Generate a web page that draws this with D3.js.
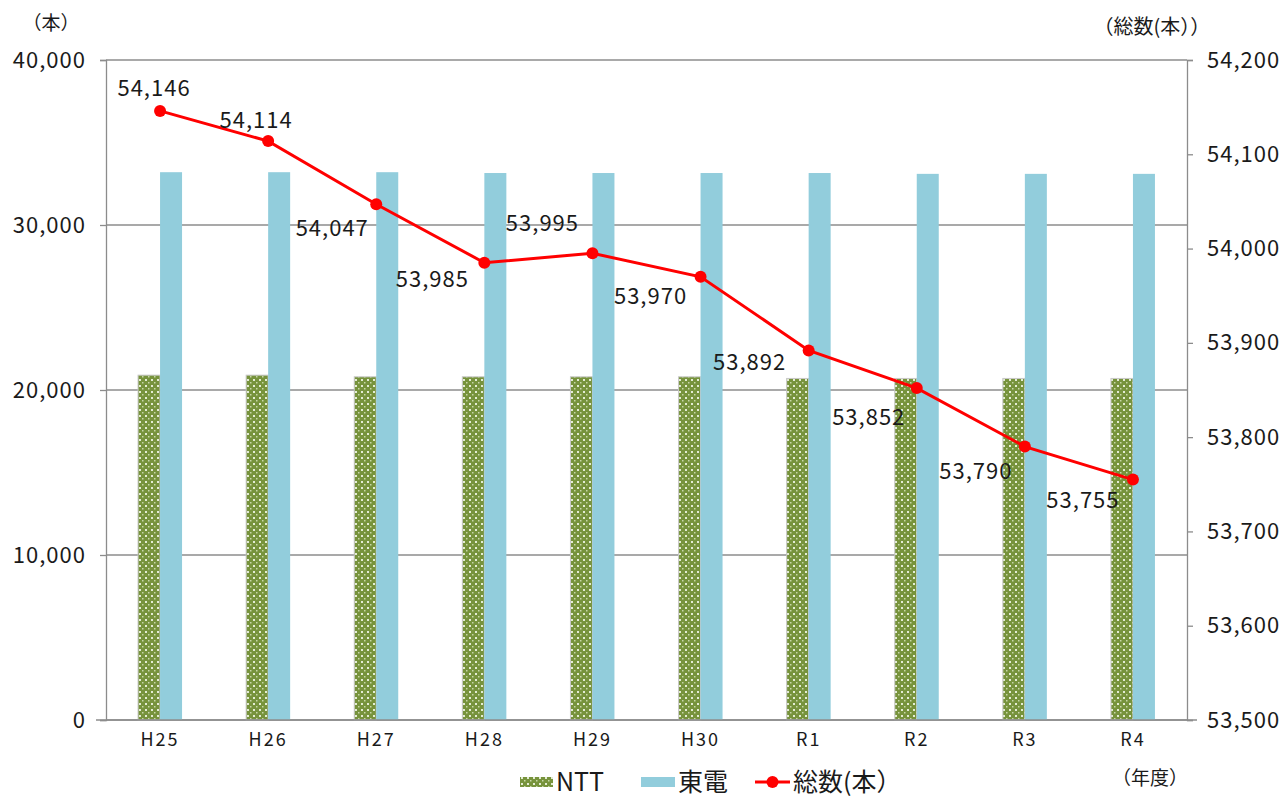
<!DOCTYPE html>
<html>
<head>
<meta charset="utf-8">
<script src="https://cdn.jsdelivr.net/npm/d3@7"></script>
<style>
  body { margin: 0; background: #fff; }
  text { font-family: "Noto Sans CJK JP", "Noto Sans", sans-serif; fill: #1a1a1a; }
</style>
</head>
<body>
<div id="chart"></div>
<script>
var years = ["H25", "H26", "H27", "H28", "H29", "H30", "R1", "R2", "R3", "R4"];
var ntt = [20900, 20900, 20800, 20800, 20800, 20800, 20700, 20700, 20700, 20700];
var toden = [33200, 33200, 33200, 33150, 33150, 33150, 33150, 33100, 33100, 33100];
var total = [54146, 54114, 54047, 53985, 53995, 53970, 53892, 53852, 53790, 53755];
var leftTicks = [0, 10000, 20000, 30000, 40000];
var rightTicks = [53500, 53600, 53700, 53800, 53900, 54000, 54100, 54200];

// where each data label sits relative to its point (layout only)
var labelDx = [-6, -12, -44, -52, -50, -50, -59, -48, -49, -50];
var labelDy = [-23, -21, 24, 16, -30, 19, 12, 29, 25, 21];

var width = 1284, height = 798;
var m = { left: 106, right: 97, top: 60, bottom: 78 };

var svg = d3.select("#chart").append("svg")
  .attr("width", width)
  .attr("height", height);

var defs = svg.append("defs");
var pat = defs.append("pattern")
  .attr("id", "dots")
  .attr("patternUnits", "userSpaceOnUse")
  .attr("width", 6).attr("height", 6);
pat.append("rect").attr("width", 6).attr("height", 6).attr("fill", "#77933c");
pat.append("rect").attr("x", 1).attr("y", 1).attr("width", 2).attr("height", 2).attr("fill", "#e4ecd4");
pat.append("rect").attr("x", 4).attr("y", 4).attr("width", 1.5).attr("height", 1.5).attr("fill", "#c8d8a8");

var x = d3.scaleBand()
  .domain(years)
  .range([m.left, width - m.right]);

var y = d3.scaleLinear()
  .domain([0, 40000])
  .range([height - m.bottom, m.top]);

var y2 = d3.scaleLinear()
  .domain([53500, 54200])
  .range([height - m.bottom, m.top]);

var fmt = d3.format(",");

// gridlines
svg.append("g")
  .selectAll("line")
  .data(leftTicks)
  .join("line")
  .attr("x1", m.left).attr("x2", width - m.right)
  .attr("y1", d => y(d)).attr("y2", d => y(d))
  .attr("stroke", "#8c8c8c")
  .attr("stroke-width", 1.3);

var barW = 22;

svg.append("g")
  .selectAll("rect")
  .data(years)
  .join("rect")
  .attr("x", d => x(d) + x.bandwidth() / 2 - barW)
  .attr("y", (d, i) => y(ntt[i]))
  .attr("width", barW)
  .attr("height", (d, i) => y(0) - y(ntt[i]))
  .attr("fill", "url(#dots)")
  .attr("stroke", "#c9c9c9")
  .attr("stroke-width", 1);

svg.append("g")
  .selectAll("rect")
  .data(years)
  .join("rect")
  .attr("x", d => x(d) + x.bandwidth() / 2)
  .attr("y", (d, i) => y(toden[i]))
  .attr("width", barW)
  .attr("height", (d, i) => y(0) - y(toden[i]))
  .attr("fill", "#92cddc");

// axes
var gl = svg.append("g")
  .attr("transform", "translate(" + m.left + ",0)")
  .call(d3.axisLeft(y).tickValues(leftTicks).tickFormat(fmt).tickSize(6).tickPadding(14));
var gr = svg.append("g")
  .attr("transform", "translate(" + (width - m.right) + ",0)")
  .call(d3.axisRight(y2).tickValues(rightTicks).tickFormat(fmt).tickSize(6).tickPadding(14));
var gb = svg.append("g")
  .attr("transform", "translate(0," + (height - m.bottom) + ")")
  .call(d3.axisBottom(x).tickSize(0).tickPadding(13));

[gl, gr, gb].forEach(function (g) {
  g.select(".domain").attr("stroke", "#8c8c8c").attr("stroke-width", 1.3);
  g.selectAll(".tick line").attr("stroke", "#8c8c8c").attr("stroke-width", 1.3);
});
gl.selectAll("text").attr("font-size", 22).attr("letter-spacing", 1).attr("fill", "#1a1a1a");
gr.selectAll("text").attr("font-size", 22).attr("letter-spacing", 1).attr("fill", "#1a1a1a");
gb.selectAll("text").attr("font-size", 18).attr("letter-spacing", 2).attr("fill", "#1a1a1a");
gb.select(".domain").attr("d", "M" + (m.left - 10) + ",0H" + (width - m.right + 10));

// line
var line = d3.line()
  .x((d, i) => x(years[i]) + x.bandwidth() / 2)
  .y(d => y2(d));

svg.append("path")
  .datum(total)
  .attr("d", line)
  .attr("fill", "none")
  .attr("stroke", "#ff0000")
  .attr("stroke-width", 3);

svg.append("g")
  .selectAll("circle")
  .data(total)
  .join("circle")
  .attr("cx", (d, i) => x(years[i]) + x.bandwidth() / 2)
  .attr("cy", d => y2(d))
  .attr("r", 6)
  .attr("fill", "#ff0000");

svg.append("g")
  .selectAll("text")
  .data(total)
  .join("text")
  .attr("x", (d, i) => x(years[i]) + x.bandwidth() / 2 + labelDx[i])
  .attr("y", (d, i) => y2(d) + labelDy[i])
  .attr("dy", "0.36em")
  .attr("text-anchor", "middle")
  .attr("font-size", 22)
  .attr("letter-spacing", 1)
  .text(d => fmt(d));

// axis titles
svg.append("text").attr("x", 51).attr("y", 30).attr("text-anchor", "middle")
  .attr("font-size", 19).text("（本）");
svg.append("text").attr("x", 1152).attr("y", 34).attr("text-anchor", "middle")
  .attr("font-size", 20).text("（総数(本））");
svg.append("text").attr("x", 1150).attr("y", 785).attr("text-anchor", "middle")
  .attr("font-size", 19).text("（年度）");

// legend
var lg = svg.append("g").attr("transform", "translate(520,782)");
lg.append("rect").attr("x", 0).attr("y", -5).attr("width", 33).attr("height", 10)
  .attr("fill", "url(#dots)");
lg.append("text").attr("x", 36).attr("y", 0).attr("dy", "0.36em").attr("font-size", 25).text("NTT");
lg.append("rect").attr("x", 121).attr("y", -5).attr("width", 34).attr("height", 10)
  .attr("fill", "#92cddc");
lg.append("text").attr("x", 158).attr("y", 0).attr("dy", "0.36em").attr("font-size", 25).text("東電");
lg.append("line").attr("x1", 235).attr("x2", 270).attr("y1", 0).attr("y2", 0)
  .attr("stroke", "#ff0000").attr("stroke-width", 3);
lg.append("circle").attr("cx", 252.5).attr("cy", 0).attr("r", 6).attr("fill", "#ff0000");
lg.append("text").attr("x", 273).attr("y", 0).attr("dy", "0.36em").attr("font-size", 25).text("総数(本）");
</script>
</body>
</html>
